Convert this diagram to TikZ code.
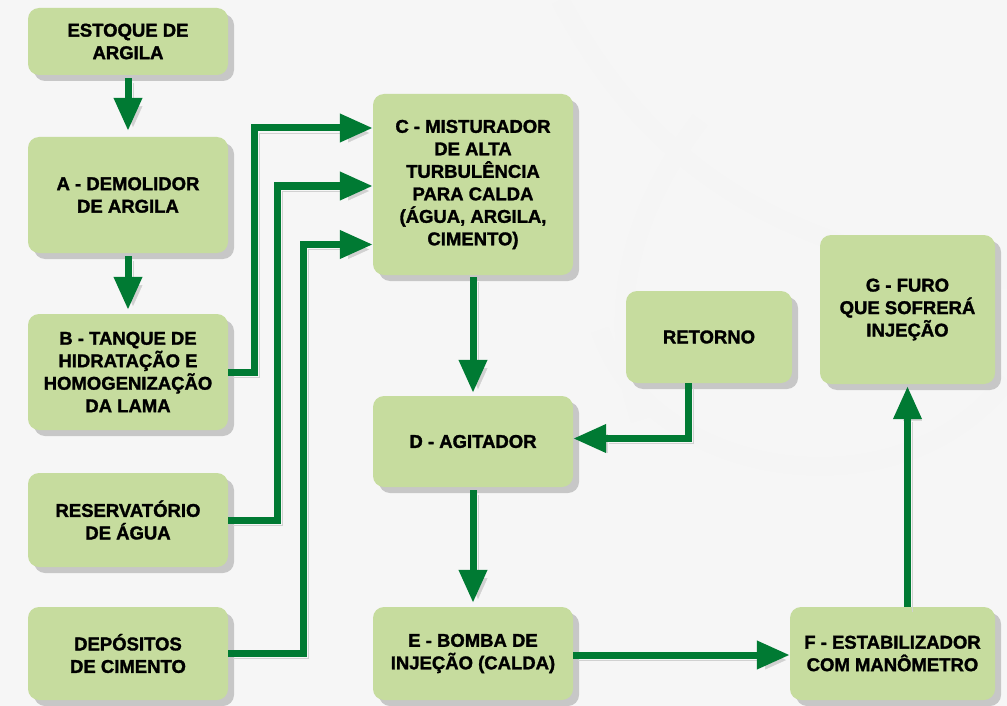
\documentclass[tikz,border=0pt]{standalone}
\usepackage{fontspec}
\setmainfont{Liberation Sans}[BoldFont={Liberation Sans Bold}, BoldFeatures={FakeBold=1.6}]
\usetikzlibrary{arrows.meta,shadows}
\definecolor{boxfill}{HTML}{C6DC9E}
\definecolor{flowgreen}{HTML}{007A33}
\definecolor{bgc}{HTML}{F6F6F6}
\tikzset{
  box/.style={rectangle, rounded corners=11pt, fill=boxfill, align=center,
    font=\fontsize{18.5}{22.5}\selectfont\bfseries, text=black, inner sep=2pt,
    drop shadow={shadow xshift=6pt, shadow yshift=-6pt, fill=black!22, opacity=1}},
  flow/.style={draw=flowgreen, line width=7pt,
    -{Triangle[width=27pt,length=33pt]},
    preaction={draw=black!18, transform canvas={shift={(5pt,-5pt)}}}},
}
\begin{document}
\begin{tikzpicture}[x=1pt,y=-1pt]
\fill[bgc] (0,0) rectangle (1007,706);
\useasboundingbox (0,0) rectangle (1007,706);
% faint background swirls
\begin{scope}[draw=black!4, line width=18pt]
\draw (560,0) .. controls (640,150) and (760,250) .. (1007,280);
\draw (600,330) .. controls (650,480) and (900,520) .. (1007,380);
\draw (700,120) .. controls (640,200) and (600,300) .. (640,420);
\end{scope}
% boxes
\node[box, minimum width=200pt, minimum height=67pt] (est) at (128,41.5) {ESTOQUE DE\\ARGILA};
\node[box, minimum width=200pt, minimum height=116pt] (A) at (128,195) {A - DEMOLIDOR\\DE ARGILA};
\node[box, minimum width=200pt, minimum height=116pt] (B) at (128,372) {B - TANQUE DE\\HIDRATAÇÃO E\\HOMOGENIZAÇÃO\\DA LAMA};
\node[box, minimum width=200pt, minimum height=94pt] (R) at (128,520) {RESERVATÓRIO\\DE ÁGUA};
\node[box, minimum width=200pt, minimum height=93pt] (dep) at (128,653.5) {DEPÓSITOS\\DE CIMENTO};
\node[box, minimum width=200pt, minimum height=181pt] (C) at (473,184.5) {C - MISTURADOR\\DE ALTA\\TURBULÊNCIA\\PARA CALDA\\(ÁGUA, ARGILA,\\CIMENTO)};
\node[box, minimum width=200pt, minimum height=91pt] (D) at (473,441.5) {D - AGITADOR};
\node[box, minimum width=200pt, minimum height=93pt] (E) at (473,653.5) {E - BOMBA DE\\INJEÇÃO (CALDA)};
\node[box, minimum width=166pt, minimum height=92pt] (ret) at (709,337) {RETORNO};
\node[box, minimum width=175pt, minimum height=149pt] (G) at (907.5,309.5) {G - FURO\\QUE SOFRERÁ\\INJEÇÃO};
\node[box, minimum width=205pt, minimum height=93pt] (F) at (892.5,653.5) {F - ESTABILIZADOR\\COM MANÔMETRO};
% connectors
\draw[flow] ([yshift=-3pt]est.south) -- ([yshift=6pt]A.north);
\draw[flow] ([yshift=-3pt]A.south) -- ([yshift=4pt]B.north);
\draw[flow] (B.east) -- ++(26,0) |- ([yshift=56.5pt]C.west);
\draw[flow] (R.east) -- ++(49,0) |- ([yshift=-1.5pt]C.west);
\draw[flow] (dep.east) -- ++(75,0) |- ([yshift=-60pt]C.west);
\draw[flow] ([yshift=-2pt]C.south) -- ([yshift=3pt]D.north);
\draw[flow] ([xshift=-21pt]ret.south) |- ([yshift=3pt]D.east);
\draw[flow] ([yshift=-3pt]D.south) -- ([yshift=4pt]E.north);
\draw[flow] ([yshift=-1.5pt]E.east) -- ([yshift=-1.5pt]F.west);
\draw[flow] (F.north -| G.south) -- ([yshift=-2pt]G.south);
\end{tikzpicture}
\end{document}
